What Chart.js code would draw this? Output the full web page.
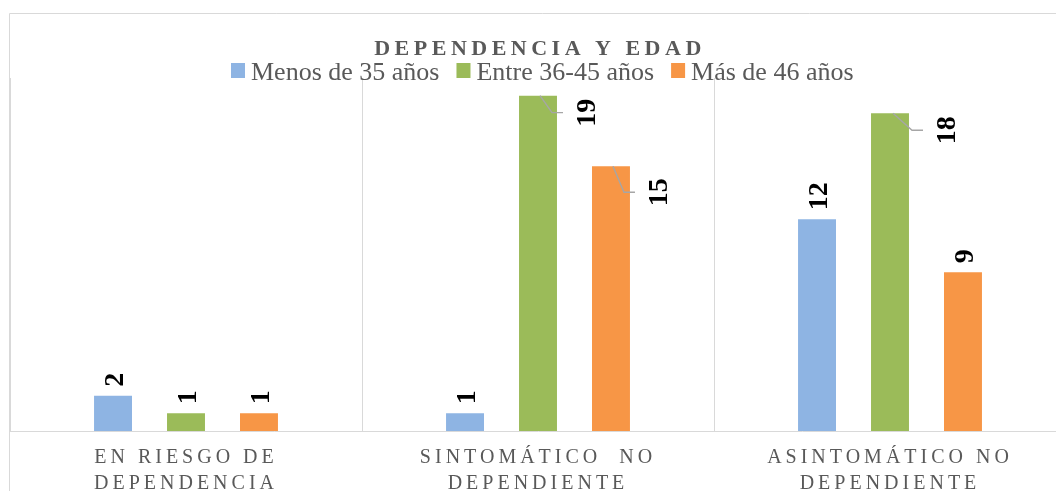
<!DOCTYPE html>
<html>
<head>
<meta charset="utf-8">
<script src="https://cdn.jsdelivr.net/npm/chart.js@4.4.1/dist/chart.umd.min.js"></script>
<style>
  html, body { margin: 0; padding: 0; background: #fff; overflow: hidden; }
  #wrap { width: 1056px; height: 491px; overflow: hidden; }
</style>
</head>
<body>
<div id="wrap"><canvas id="myChart" width="1076" height="491"></canvas></div>
<script>
'use strict';
// Data
var chartTitle = 'DEPENDENCIA Y EDAD';
var categories = [
  ['EN RIESGO DE', 'DEPENDENCIA'],
  ['SINTOMÁTICO  NO', 'DEPENDIENTE'],
  ['ASINTOMÁTICO NO', 'DEPENDIENTE']
];
var seriesNames = ['Menos de 35 años', 'Entre 36-45 años', 'Más de 46 años'];
var menos35 = [2, 1, 12];
var entre36a45 = [1, 19, 18];
var mas46 = [1, 15, 9];
var seriesColors = ['#8EB4E3', '#9BBB59', '#F79646'];

var serif = '"Liberation Serif", "Times New Roman", serif';
var textGray = '#595959';
var lineGray = '#d9d9d9';

// labels that got pushed out to the side with a leader line (dataset-index)
var callouts = {
  '1-1': { sx: 2, dx: 14, dy: 17 },
  '2-1': { sx: 2, dx: 13, dy: 26 },
  '1-2': { sx: 3, dx: 22, dy: 17 }
};

var framePlugin = {
  id: 'frame',
  beforeDraw: function (chart) {
    var ctx = chart.ctx;
    ctx.save();
    ctx.strokeStyle = lineGray;
    ctx.lineWidth = 1;
    ctx.beginPath();
    ctx.moveTo(9.5, chart.height);
    ctx.lineTo(9.5, 13.5);
    ctx.lineTo(chart.width, 13.5);
    ctx.stroke();
    ctx.restore();

    // spaced out category labels
    var xs = chart.scales.x;
    if (xs && !xs._spaced) {
      var orig = xs.drawLabels;
      xs.drawLabels = function (area) {
        chart.ctx.save();
        chart.ctx.letterSpacing = '4px';
        orig.call(this, area);
        chart.ctx.restore();
      };
      xs._spaced = true;
    }
  },
  afterDraw: function (chart) {
    var ctx = chart.ctx;
    var cx = (chart.chartArea.left + chart.chartArea.right) / 2;

    // title
    ctx.save();
    ctx.font = 'bold 22px ' + serif;
    ctx.fillStyle = textGray;
    ctx.letterSpacing = '4.5px';
    ctx.textAlign = 'center';
    ctx.textBaseline = 'alphabetic';
    ctx.fillText(chartTitle, cx + 2, 55);
    ctx.restore();

    // legend
    ctx.save();
    ctx.font = '26px ' + serif;
    ctx.textBaseline = 'alphabetic';
    ctx.textAlign = 'left';
    var boxW = 14, gap = 6, itemGap = 17;
    var x = 231;
    for (var j = 0; j < seriesNames.length; j++) {
      ctx.fillStyle = seriesColors[j];
      ctx.fillRect(x, 63, boxW, 15);
      ctx.fillStyle = textGray;
      ctx.fillText(seriesNames[j], x + boxW + gap, 80);
      x += boxW + gap + ctx.measureText(seriesNames[j]).width + itemGap;
    }
    ctx.restore();
  },
  afterDatasetsDraw: function (chart) {
    var ctx = chart.ctx;
    var size = 28;
    ctx.save();
    ctx.font = 'bold ' + size + 'px ' + serif;
    ctx.fillStyle = '#000';
    chart.data.datasets.forEach(function (ds, di) {
      var meta = chart.getDatasetMeta(di);
      meta.data.forEach(function (bar, idx) {
        var txt = String(ds.data[idx]);
        var c = callouts[di + '-' + idx];
        ctx.save();
        if (c) {
          var x0 = bar.x + c.sx;
          var x1 = bar.x + c.dx;
          var y1 = bar.y + c.dy;
          ctx.strokeStyle = '#a6a6a6';
          ctx.lineWidth = 1.4;
          ctx.beginPath();
          ctx.moveTo(x0, bar.y);
          ctx.lineTo(x1, y1);
          ctx.lineTo(x1 + 11, y1);
          ctx.stroke();
          ctx.translate(x1 + 33, y1);
          ctx.rotate(-Math.PI / 2);
          ctx.textAlign = 'center';
        } else {
          ctx.translate(bar.x, bar.y - 9);
          ctx.rotate(-Math.PI / 2);
          ctx.textAlign = 'left';
        }
        ctx.textBaseline = 'alphabetic';
        ctx.fillText(txt, 0, size * 0.34);
        ctx.restore();
      });
    });
    ctx.restore();
  }
};

var ctx = document.getElementById('myChart').getContext('2d');
var chart = new Chart(ctx, {
  type: 'bar',
  data: {
    labels: categories,
    datasets: [{
      label: seriesNames[0],
      backgroundColor: seriesColors[0],
      data: menos35
    }, {
      label: seriesNames[1],
      backgroundColor: seriesColors[1],
      data: entre36a45
    }, {
      label: seriesNames[2],
      backgroundColor: seriesColors[2],
      data: mas46
    }]
  },
  options: {
    responsive: false,
    animation: false,
    devicePixelRatio: 1,
    categoryPercentage: 0.622,
    barPercentage: 0.52,
    layout: { padding: { top: 78, left: 10, right: 10, bottom: 0 } },
    plugins: {
      legend: { display: false },
      title: { display: false },
      tooltip: { enabled: false }
    },
    scales: {
      x: {
        grid: { color: lineGray, drawTicks: false, offset: true },
        border: { color: lineGray },
        ticks: {
          color: textGray,
          font: { family: serif, size: 20, lineHeight: 1.3 },
          padding: 14,
          maxRotation: 0,
          autoSkip: false
        },
        afterFit: function (scale) { scale.height = 60; }
      },
      y: {
        display: false,
        min: 0,
        max: 20
      }
    }
  },
  plugins: [framePlugin]
});
</script>
</body>
</html>
